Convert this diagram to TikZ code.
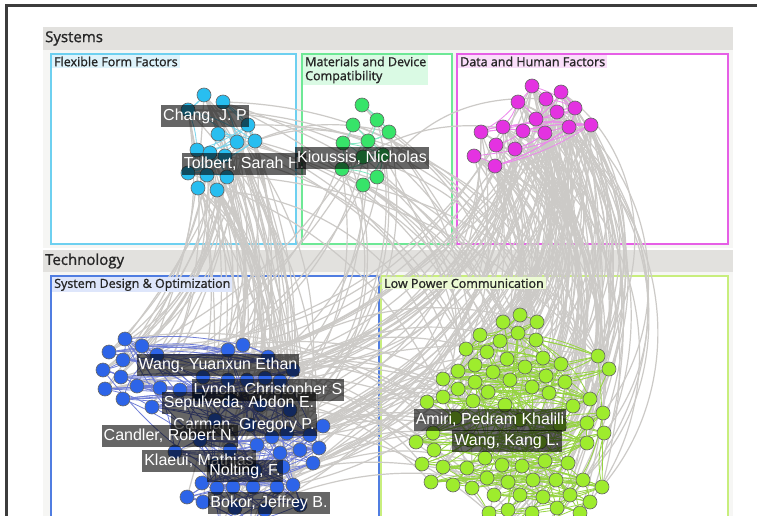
\documentclass[tikz,border=0pt]{standalone}
\usepackage{fontspec}
\setmainfont{Open Sans}
\newfontfamily\tagfont{Open Sans}[FakeBold=1.2]
\newfontfamily\namefont{Liberation Sans}
\usepackage{xcolor}
\definecolor{frameC}{RGB}{60,60,60}
\definecolor{hdrC}{RGB}{226,225,222}
\definecolor{bandC}{RGB}{246,246,244}
\definecolor{arcC}{RGB}{204,202,199}
\definecolor{ffC}{RGB}{40,190,240}
\definecolor{ffL}{RGB}{110,208,240}
\definecolor{ffE}{RGB}{120,212,236}
\definecolor{ffT}{RGB}{222,243,251}
\definecolor{mdC}{RGB}{55,228,105}
\definecolor{mdL}{RGB}{110,232,150}
\definecolor{mdE}{RGB}{130,232,195}
\definecolor{mdT}{RGB}{218,250,228}
\definecolor{dhC}{RGB}{228,50,225}
\definecolor{dhL}{RGB}{230,95,230}
\definecolor{dhE}{RGB}{236,135,236}
\definecolor{dhT}{RGB}{250,222,250}
\definecolor{sdC}{RGB}{45,100,232}
\definecolor{sdL}{RGB}{80,125,225}
\definecolor{sdE}{RGB}{112,126,215}
\definecolor{sdT}{RGB}{222,230,251}
\definecolor{lpC}{RGB}{158,236,45}
\definecolor{lpL}{RGB}{200,238,125}
\definecolor{lpE}{RGB}{150,212,65}
\definecolor{lpT}{RGB}{236,250,212}
\pgfdeclarelayer{back}
\pgfdeclarelayer{wires}
\pgfdeclarelayer{front}
\pgfsetlayers{back,wires,main,front}
\tikzset{
  panel/.style={draw=#1, line width=1.2pt, fill=white},
  ptag/.style={fill=#1, anchor=north west, inner xsep=2pt, inner ysep=1.5pt, text=black!85, font=\tagfont\fontsize{12.5}{14}\selectfont, align=left},
  head/.style={anchor=west, inner sep=0pt, text=black!85, font=\tagfont\fontsize{15}{16}\selectfont},
  vx/.style={circle, draw=black!60, line width=0.6pt, fill=#1, minimum size=14pt, inner sep=0pt},
  who/.style={fill=black, fill opacity=0.6, text opacity=1, text=white, font=\namefont\fontsize{16}{18}\selectfont, inner xsep=2pt, inner ysep=3pt, text height=12pt, text depth=3.5pt},
  farlink/.style={draw=arcC, line width=1.2pt},
  tie/.style={draw=#1, line width=0.8pt}
}
\newcommand\links[8]{\foreach \k in {1,...,#6}{\pgfmathtruncatemacro\srcn{random(1,#3)}\pgfmathtruncatemacro\tgtn{random(1,#5)}\pgfmathtruncatemacro\bnd{random(#7,#8)}\ifnum\srcn=\tgtn\else\draw[#1] (#2\srcn) to[bend left=\bnd] (#4\tgtn);\fi}}
\newcommand\locallinks[4]{\foreach \i in {1,...,#3}{\foreach \d in {1,2,3}{\pgfmathtruncatemacro\tgtn{\i+random(1,#4)}\ifnum\tgtn>#3\else\draw[#1] (#2\i) to[bend left=8] (#2\tgtn);\fi}}}

\begin{document}
\begin{tikzpicture}[x=1pt,y=-1pt]
  \useasboundingbox (0,0) rectangle (757,516);
  \begin{pgfonlayer}{back}
    \fill[white] (0,0) rectangle (757,516);
    \fill[bandC] (43,50) rectangle (733,248);
    \fill[bandC] (43,272) rectangle (733,530);
    \fill[hdrC] (43,27) rectangle (733,50);
    \fill[hdrC] (43,250) rectangle (733,272);
    \node[head] (sys) at (45,38.5) {Systems};
    \node[head] (tech) at (45,261) {Technology};
    \draw[panel=ffL] (51,54) rectangle (296,244);
    \draw[panel=mdL] (302,54) rectangle (452,244);
    \draw[panel=dhL] (457,54) rectangle (728,244);
    \draw[panel=sdL] (51,276) rectangle (379,530);
    \draw[panel=lpL] (381,276) rectangle (728,530);
    \draw[frameC, line width=3pt] (6,520) -- (6,6) -- (760,6);
  \end{pgfonlayer}

  \foreach \x/\y [count=\i] in {204/95,223/102,188/110,248/125,218/134,237/142,255/141,197/150,210/153,225/156,188/173,207/175,227/177,198/188,217/190}
    \node[vx=ffC] (c\i) at (\x,\y) {};
  \foreach \x/\y [count=\i] in {362/105,377/120,353/125,389/132,368/141,343/143,363/157,383/155,342/169,377/177,363/185}
    \node[vx=mdC] (g\i) at (\x,\y) {};
  \foreach \x/\y [count=\i] in {532/86,561/92,518/102,546/99,557/112,575/108,536/119,481/132,503/127,523/131,545/133,569/127,591/125,496/145,515/149,474/156,495/166}
    \node[vx=dhC] (m\i) at (\x,\y) {};
  \foreach \x/\y [count=\i] in {125/339,142/346,243/345,109/352,228/350,157/355,268/357,123/360,103/370,293/370,121/377,203/377,228/380,247/380,265/378,280/381,137/386,160/388,180/390,105/389,123/399,200/395,230/400,260/405,152/407,290/410,215/420,250/425,323/426,287/433,310/435,272/437,200/440,257/445,319/448,300/450,280/453,230/450,175/452,313/463,215/465,283/467,255/470,202/483,217/488,233/487,253/487,277/487,293/485,187/497,203/502,235/508,265/510,300/505,220/526,250/528}
    \node[vx=sdC] (b\i) at (\x,\y) {};
  \foreach \x/\y [count=\i] in {520/315,503/322,537/322,480/335,518/333,500/341,536/340,466/349,487/352,507/359,543/358,561/364,598/356,609/369,475/365,458/371,525/367,493/372,443/379,510/380,475/382,546/376,565/382,458/389,488/392,532/387,549/393,443/397,473/401,427/402,505/405,573/406,590/399,603/413,455/418,520/420,560/425,587/423,604/433,433/433,416/442,470/440,540/442,587/443,434/450,485/458,545/461,568/463,422/464,443/467,467/468,502/465,522/466,431/482,453/485,472/488,487/478,508/482,533/480,556/480,583/480,602/487,494/495,520/495,543/497,570/495,590/502,489/513,508/510,532/513,557/508,580/513,500/530,545/532}
    \node[vx=lpC] (l\i) at (\x,\y) {};

  \begin{pgfonlayer}{wires}
    \pgfmathsetseed{11}
    \links{farlink}{c}{15}{b}{56}{70}{5}{30}
    \links{farlink}{c}{15}{l}{74}{15}{20}{40}
    \links{farlink}{m}{17}{l}{74}{120}{15}{55}
    \links{farlink}{m}{17}{b}{56}{50}{20}{45}
    \links{farlink}{b}{56}{l}{74}{35}{15}{35}
    \links{farlink}{g}{11}{b}{56}{14}{15}{40}
    \links{farlink}{g}{11}{l}{74}{14}{15}{40}
    \links{farlink}{g}{11}{m}{17}{2}{20}{30}
    \links{farlink}{c}{15}{g}{11}{3}{10}{20}
    \locallinks{tie=ffE}{c}{15}{5}
    \locallinks{tie=mdE}{g}{11}{3}
    \locallinks{tie=dhE}{m}{17}{6}
    \locallinks{tie=sdE}{b}{56}{8}
    \links{tie=sdE}{b}{56}{b}{56}{60}{-20}{20}
    \locallinks{tie=lpE}{l}{74}{9}
    \links{tie=lpE}{l}{74}{l}{74}{70}{-20}{20}
  \end{pgfonlayer}

  \begin{pgfonlayer}{front}
    \node[ptag=ffT] (fftag) at (52,55) {Flexible Form Factors};
    \node[ptag=mdT] (mdtag) at (303,55) {Materials and Device\\Compatibility};
    \node[ptag=dhT] (dhtag) at (458,55) {Data and Human Factors};
    \node[ptag=sdT] (sdtag) at (52,277) {System Design \& Optimization};
    \node[ptag=lpT] (lptag) at (382,277) {Low Power Communication};
    \node[who] (chang) at (205,116) {Chang, J. P};
    \node[who] (tolbert) at (244,164) {Tolbert, Sarah H.};
    \node[who] (kioussis) at (362,158) {Kioussis, Nicholas};
    \node[who] (wangy) at (218,365) {Wang, Yuanxun Ethan};
    \node[who] (lynch) at (268,390) {Lynch, Christopher S};
    \node[who] (sepulveda) at (239,403) {Sepulveda, Abdon E.};
    \node[who] (carman) at (244,425) {Carman, Gregory P.};
    \node[who] (candler) at (170,436) {Candler, Robert N.};
    \node[who] (klaeui) at (199,461) {Klaeui, Mathias};
    \node[who] (nolting) at (245,471) {Nolting, F.};
    \node[who] (bokor) at (269,503) {Bokor, Jeffrey B.};
    \node[who] (amiri) at (490,420) {Amiri, Pedram Khalili};
    \node[who] (wangk) at (507,441) {Wang, Kang L.};
  \end{pgfonlayer}
\end{tikzpicture}
\end{document}
